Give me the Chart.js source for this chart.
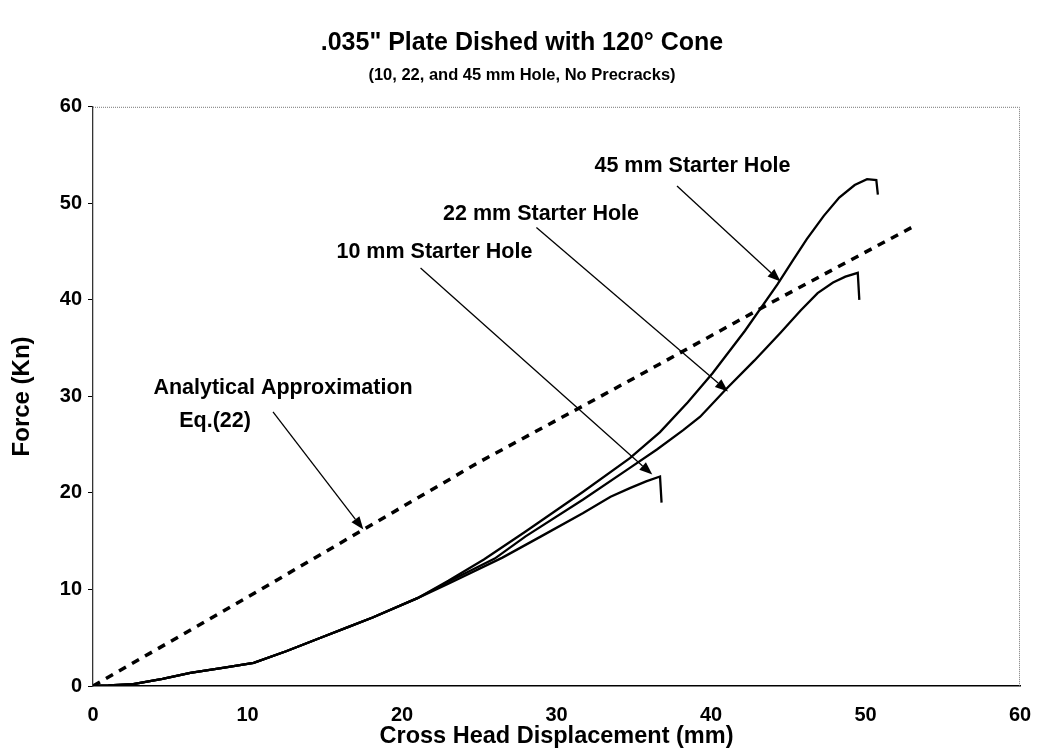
<!DOCTYPE html>
<html>
<head>
<meta charset="utf-8">
<script src="https://cdn.jsdelivr.net/npm/chart.js@4.4.1/dist/chart.umd.min.js"></script>
<style>
  html, body { margin: 0; padding: 0; background: #fff; }
  #wrap { width: 1039px; height: 750px; position: relative; }
</style>
</head>
<body>
<div id="wrap"><canvas id="c" width="1039" height="750"></canvas></div>
<script>
// ---- Data ----
const titleText = '.035" Plate Dished with 120\u00B0 Cone';
const subtitleText = '(10, 22, and 45 mm Hole, No Precracks)';
const xAxisTitle = 'Cross Head Displacement (mm)';
const yAxisTitle = 'Force (Kn)';
const xTicks = [0, 10, 20, 30, 40, 50, 60];
const yTicks = [0, 10, 20, 30, 40, 50, 60];

const hole10X = [0, 1, 2.6, 4.5, 6.3, 8.5, 10.4, 12.5, 14.9, 16.5, 18.1, 21, 23, 26.5, 29, 31.7, 33.5, 34.75, 35.8, 36.7, 36.8];
const hole10Y = [0, 0.05, 0.2, 0.75, 1.35, 1.9, 2.4, 3.6, 5.1, 6.1, 7.1, 9.1, 10.6, 13.3, 15.5, 17.9, 19.6, 20.5, 21.2, 21.7, 19.0];

const hole22X = [0, 1, 2.6, 4.5, 6.3, 8.5, 10.4, 12.5, 14.9, 16.5, 18.1, 21, 23, 26, 28, 31.7, 34.75, 36.5, 38.2, 39.3, 41, 42.8, 44.5, 45.8, 46.9, 47.9, 48.7, 49.5, 49.6];
const hole22Y = [0, 0.05, 0.2, 0.75, 1.35, 1.9, 2.4, 3.6, 5.1, 6.1, 7.1, 9.1, 10.8, 13.2, 15.5, 19.3, 22.6, 24.5, 26.5, 27.9, 30.8, 33.7, 36.6, 38.9, 40.7, 41.8, 42.4, 42.8, 40.0];

const hole45X = [0, 1, 2.6, 4.5, 6.3, 8.5, 10.4, 12.5, 14.9, 16.5, 18.1, 21, 23, 25.3, 28, 31.7, 34.75, 36.7, 38.5, 40.1, 42.2, 44.3, 45.3, 46.2, 47.3, 48.3, 49.3, 50.1, 50.7, 50.8];
const hole45Y = [0, 0.05, 0.2, 0.75, 1.35, 1.9, 2.4, 3.6, 5.1, 6.1, 7.1, 9.1, 10.9, 13.1, 16.0, 20.1, 23.6, 26.3, 29.4, 32.4, 36.8, 41.6, 44.1, 46.3, 48.7, 50.6, 51.9, 52.5, 52.4, 50.9];

const analyticX = [0, 10, 17.5, 25, 31.7, 35.6, 44, 53.1];
const analyticY = [0, 9.2, 16.2, 23.2, 29.0, 32.4, 39.8, 47.6];

// Annotation labels (data coordinates of text centre)
const labelTexts = ['45 mm Starter Hole', '22 mm Starter Hole', '10 mm Starter Hole', 'Analytical Approximation', 'Eq.(22)'];
const labelX = [38.8, 29.0, 22.1, 12.3, 7.9];
const labelY = [53.9, 48.9, 44.9, 30.9, 27.4];

// Arrows (from -> tip) in data coordinates
const arrowFromX = [37.8, 28.7, 21.2, 11.65];
const arrowFromY = [51.8, 47.5, 43.3, 28.4];
const arrowToX = [44.5, 41.1, 36.2, 17.5];
const arrowToY = [41.9, 30.5, 21.9, 16.2];

const zip = (xs, ys) => xs.map((x, i) => ({ x: x, y: ys[i] }));

const FONT = '"Liberation Sans", Arial, sans-serif';

const annotationPlugin = {
  id: 'annot',
  beforeDatasetsDraw(chart) {
    const { ctx, chartArea: a } = chart;
    ctx.save();
    ctx.strokeStyle = '#777';
    ctx.lineWidth = 1;
    ctx.setLineDash([1, 1]);
    ctx.beginPath();
    ctx.moveTo(a.left, a.top + 0.5);
    ctx.lineTo(a.right - 0.5, a.top + 0.5);
    ctx.lineTo(a.right - 0.5, a.bottom);
    ctx.stroke();
    ctx.restore();
  },
  afterDatasetsDraw(chart) {
    const { ctx } = chart;
    const xs = chart.scales.x, ys = chart.scales.y;
    ctx.save();
    ctx.fillStyle = '#000';
    ctx.strokeStyle = '#000';
    for (let i = 0; i < arrowFromX.length; i++) {
      const x1 = xs.getPixelForValue(arrowFromX[i]);
      const y1 = ys.getPixelForValue(arrowFromY[i]);
      const x2 = xs.getPixelForValue(arrowToX[i]);
      const y2 = ys.getPixelForValue(arrowToY[i]);
      const ang = Math.atan2(y2 - y1, x2 - x1);
      const L = 13, W = 5;
      const bx = x2 - L * Math.cos(ang), by = y2 - L * Math.sin(ang);
      ctx.lineWidth = 1.3;
      ctx.beginPath();
      ctx.moveTo(x1, y1);
      ctx.lineTo(bx, by);
      ctx.stroke();
      ctx.beginPath();
      ctx.moveTo(x2, y2);
      ctx.lineTo(bx + W * Math.sin(ang), by - W * Math.cos(ang));
      ctx.lineTo(bx - W * Math.sin(ang), by + W * Math.cos(ang));
      ctx.closePath();
      ctx.fill();
    }
    ctx.font = 'bold 21.5px ' + FONT;
    ctx.textAlign = 'center';
    ctx.textBaseline = 'middle';
    for (let i = 0; i < labelTexts.length; i++) {
      ctx.fillText(labelTexts[i], xs.getPixelForValue(labelX[i]), ys.getPixelForValue(labelY[i]));
    }
    ctx.restore();
  }
};

const solid = (label, xs, ys) => ({
  label: label,
  data: zip(xs, ys),
  showLine: true,
  borderColor: '#000',
  borderWidth: 2.3,
  pointRadius: 0,
  tension: 0,
  fill: false
});

new Chart(document.getElementById('c'), {
  type: 'scatter',
  data: {
    datasets: [
      solid('10 mm Starter Hole', hole10X, hole10Y),
      solid('22 mm Starter Hole', hole22X, hole22Y),
      solid('45 mm Starter Hole', hole45X, hole45Y),
      {
        label: 'Analytical Approximation Eq.(22)',
        data: zip(analyticX, analyticY),
        showLine: true,
        borderColor: '#000',
        borderWidth: 3.5,
        borderDash: [8, 7],
        pointRadius: 0,
        tension: 0,
        fill: false
      }
    ]
  },
  options: {
    responsive: false,
    animation: false,
    layout: { padding: { left: 24, right: 19, top: 0, bottom: 0 } },
    plugins: {
      legend: { display: false },
      tooltip: { enabled: false },
      title: {
        display: true,
        text: titleText,
        color: '#000',
        font: { family: FONT, size: 25, weight: 'bold' },
        padding: { top: 28, bottom: 8 }
      },
      subtitle: {
        display: true,
        text: subtitleText,
        color: '#000',
        font: { family: FONT, size: 16.5, weight: 'bold' },
        padding: { top: 0, bottom: 21 }
      }
    },
    scales: {
      x: {
        type: 'linear',
        min: 0, max: 60,
        afterBuildTicks: (s) => { s.ticks = xTicks.map(v => ({ value: v })); },
        afterFit: (s) => { s.height = 64; s.paddingLeft = 0; s.paddingRight = 0; },
        ticks: { color: '#000', font: { family: FONT, size: 20, weight: 'bold' }, padding: 17, maxRotation: 0 },
        grid: { display: false, drawTicks: false },
        border: { display: true, color: '#000', width: 1.5 },
        title: {
          display: true, text: xAxisTitle, color: '#000',
          font: { family: FONT, size: 23.5, weight: 'bold' },
          padding: { top: 0, bottom: -1 }
        }
      },
      y: {
        type: 'linear',
        min: 0, max: 60,
        afterBuildTicks: (s) => { s.ticks = yTicks.map(v => ({ value: v })); },
        afterFit: (s) => { s.width = 69; },
        ticks: { color: '#000', font: { family: FONT, size: 20, weight: 'bold' }, padding: 6 },
        grid: { drawOnChartArea: false, drawTicks: true, tickLength: 5, color: '#000' },
        border: { display: true, color: '#333', width: 1.3, dash: [2, 1] },
        title: {
          display: true, text: yAxisTitle, color: '#000',
          font: { family: FONT, size: 24, weight: 'bold' },
          padding: { top: -16, bottom: 0 }
        }
      }
    }
  },
  plugins: [annotationPlugin]
});
</script>
</body>
</html>
